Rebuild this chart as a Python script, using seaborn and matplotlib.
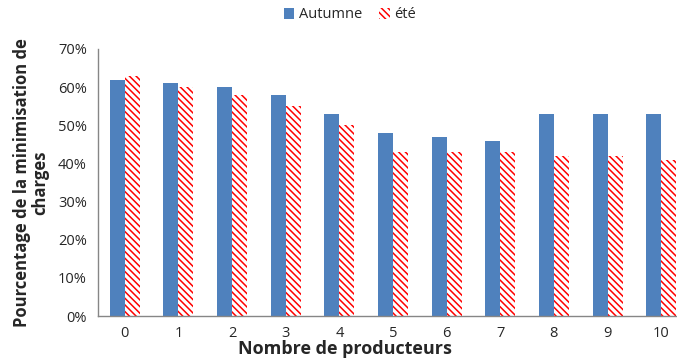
import pandas as pd
import numpy as np
import matplotlib.pyplot as plt
import seaborn as sns
from matplotlib.ticker import PercentFormatter

producteurs = [0, 1, 2, 3, 4, 5, 6, 7, 8, 9, 10]
autumne = [62, 61, 60, 58, 53, 48, 47, 46, 53, 53, 53]
ete = [63, 60, 58, 55, 50, 43, 43, 43, 42, 42, 41]
saisons = ["Autumne", "été"]

sns.set_style("white")
plt.rcParams["font.family"] = ["Open Sans", "DejaVu Sans"]
plt.rcParams["hatch.linewidth"] = 1.1

df = pd.DataFrame({
    "producteurs": producteurs * 2,
    "valeur": autumne + ete,
    "saison": [saisons[0]] * len(producteurs) + [saisons[1]] * len(producteurs),
})

fig = plt.figure(figsize=(6.77, 3.6), dpi=100)
ax = fig.add_axes([98 / 677, 44 / 360, 590 / 677, 267 / 360])

sns.barplot(data=df, x="producteurs", y="valeur", hue="saison", hue_order=saisons,
            palette=["#4F81BD", "white"], width=0.56, ax=ax, legend=False,
            saturation=1, edgecolor="none")

# hachures rouges pour l'été
for p in ax.containers[1]:
    p.set_hatch("\\" * 5)
    p.set_edgecolor("#FF0000")
    p.set_linewidth(0)

ax.set_ylim(0, 70)
ax.set_xlim(-0.5, 10.5)
ax.set_yticks(np.arange(0, 71, 10))
ax.yaxis.set_major_formatter(PercentFormatter(decimals=0))
ax.tick_params(axis="y", length=5, width=1, color="#868686", labelsize=10.5, pad=3)
ax.tick_params(axis="x", length=0, labelsize=10.5, pad=7)

for s in ["top", "right"]:
    ax.spines[s].set_visible(False)
for s in ["left", "bottom"]:
    ax.spines[s].set_color("#868686")
    ax.spines[s].set_linewidth(1)

ax.set_ylabel("Pourcentage de la minimisation de\ncharges", fontsize=12,
              fontweight="bold", labelpad=6, linespacing=1.05)
ax.set_xlabel("")
fig.text(345 / 677, 2 / 360, "Nombre de producteurs", fontsize=13,
         fontweight="bold", ha="center", va="bottom")

handles = [ax.containers[0][0], ax.containers[1][0]]
fig.legend(handles, saisons, loc="center", bbox_to_anchor=(350 / 677, 1 - 15 / 360),
           ncol=2, frameon=False, fontsize=10.5, handlelength=0.7, handleheight=0.7,
           handletextpad=0.3, columnspacing=1.2)

fig.savefig("out.png", dpi=100)
